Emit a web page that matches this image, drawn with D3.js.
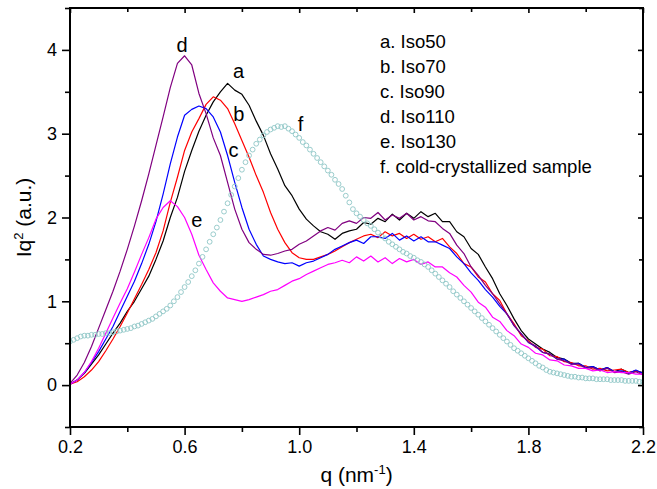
<!DOCTYPE html>
<html>
<head>
<meta charset="utf-8">
<script src="https://cdn.jsdelivr.net/npm/d3@7"></script>
<style>
  html, body { margin: 0; padding: 0; background: #fff; }
  svg { display: block; font-family: "Liberation Sans", Arial, sans-serif; }
</style>
</head>
<body>
<svg id="chart" width="657" height="489"></svg>
<script>
// ---- Data ----
// q grid for the line series: 0.2 .. 2.2 step 0.025
const qLine = d3.range(81).map(i => +(0.2 + i * 0.025).toFixed(4));
// q grid for the marker series f: 0.2 .. 2.2 step 0.0125
const qMark = d3.range(161).map(i => +(0.2 + i * 0.0125).toFixed(5));

const iso50 = [0.01,0.06,0.14,0.25,0.36,0.49,0.62,0.74,0.88,1.00,1.15,1.30,1.50,1.72,2.00,2.24,2.55,2.80,3.03,3.22,3.38,3.50,3.60,3.52,3.47,3.34,3.15,2.98,2.76,2.58,2.38,2.26,2.10,1.98,1.90,1.83,1.80,1.74,1.81,1.84,1.86,1.94,1.92,1.99,1.95,2.04,1.97,2.05,1.99,2.07,2.01,2.05,1.95,1.95,1.83,1.77,1.63,1.56,1.41,1.27,1.09,0.95,0.79,0.65,0.55,0.49,0.43,0.39,0.33,0.31,0.26,0.26,0.21,0.22,0.18,0.21,0.16,0.19,0.15,0.17,0.15];
const iso70 = [0.01,0.04,0.10,0.18,0.28,0.41,0.55,0.70,0.86,1.03,1.20,1.38,1.58,1.84,2.18,2.48,2.80,3.02,3.18,3.35,3.44,3.40,3.30,3.12,2.92,2.72,2.50,2.30,2.06,1.86,1.70,1.58,1.52,1.50,1.50,1.53,1.56,1.60,1.65,1.70,1.74,1.78,1.80,1.76,1.83,1.78,1.81,1.75,1.80,1.74,1.77,1.71,1.75,1.65,1.57,1.45,1.41,1.29,1.23,1.09,1.01,0.85,0.73,0.59,0.53,0.45,0.43,0.35,0.34,0.28,0.27,0.23,0.23,0.19,0.20,0.17,0.18,0.19,0.15,0.17,0.14];
const iso90 = [0.01,0.06,0.15,0.27,0.40,0.55,0.70,0.88,1.06,1.24,1.45,1.68,1.95,2.28,2.64,2.96,3.22,3.29,3.33,3.30,3.20,3.02,2.74,2.42,2.12,1.86,1.68,1.54,1.50,1.47,1.45,1.46,1.42,1.46,1.48,1.52,1.56,1.62,1.66,1.70,1.73,1.69,1.77,1.77,1.75,1.81,1.73,1.78,1.72,1.77,1.71,1.71,1.67,1.63,1.53,1.45,1.34,1.25,1.14,1.05,0.94,0.85,0.71,0.61,0.51,0.46,0.39,0.37,0.31,0.31,0.25,0.26,0.21,0.22,0.18,0.21,0.16,0.17,0.14,0.18,0.14];
const iso110 = [0.02,0.12,0.27,0.46,0.68,0.90,1.12,1.36,1.62,1.90,2.20,2.52,2.86,3.20,3.55,3.84,3.93,3.82,3.48,3.24,2.95,2.74,2.42,2.10,1.86,1.70,1.62,1.56,1.55,1.57,1.60,1.62,1.68,1.72,1.78,1.84,1.88,1.85,1.93,1.96,1.93,2.00,1.99,2.06,1.97,2.03,1.99,2.05,1.97,2.01,1.96,1.95,1.87,1.81,1.67,1.57,1.41,1.31,1.19,1.09,0.97,0.85,0.71,0.61,0.51,0.47,0.39,0.37,0.31,0.29,0.25,0.25,0.20,0.21,0.17,0.20,0.15,0.16,0.13,0.16,0.12];
const iso130 = [0.01,0.06,0.15,0.28,0.44,0.62,0.80,0.98,1.15,1.35,1.56,1.76,1.98,2.12,2.20,2.13,2.00,1.80,1.55,1.38,1.22,1.12,1.04,1.02,1.00,1.02,1.05,1.08,1.12,1.14,1.19,1.24,1.27,1.32,1.36,1.40,1.44,1.46,1.49,1.46,1.53,1.48,1.54,1.47,1.52,1.45,1.51,1.47,1.50,1.44,1.47,1.41,1.41,1.34,1.29,1.19,1.11,0.99,0.93,0.81,0.76,0.65,0.59,0.49,0.45,0.38,0.36,0.30,0.29,0.24,0.23,0.20,0.20,0.17,0.18,0.15,0.16,0.15,0.15,0.13,0.13];
const coldCryst = [0.52,0.54,0.56,0.58,0.59,0.59,0.60,0.60,0.61,0.61,0.62,0.62,0.63,0.64,0.65,0.66,0.67,0.68,0.70,0.71,0.73,0.75,0.77,0.79,0.82,0.85,0.88,0.91,0.95,1.00,1.05,1.11,1.17,1.23,1.30,1.37,1.45,1.53,1.62,1.71,1.80,1.88,1.97,2.07,2.17,2.27,2.37,2.47,2.57,2.66,2.74,2.81,2.88,2.93,2.98,3.02,3.05,3.07,3.09,3.08,3.09,3.06,3.03,2.99,2.95,2.90,2.86,2.81,2.76,2.71,2.66,2.61,2.56,2.51,2.45,2.40,2.34,2.26,2.18,2.10,2.05,2.01,1.97,1.93,1.90,1.86,1.82,1.78,1.75,1.71,1.68,1.65,1.62,1.59,1.57,1.54,1.52,1.49,1.47,1.44,1.41,1.37,1.33,1.29,1.25,1.21,1.17,1.12,1.08,1.04,1.00,0.96,0.92,0.88,0.84,0.80,0.76,0.72,0.68,0.64,0.60,0.56,0.52,0.48,0.44,0.41,0.38,0.35,0.32,0.29,0.26,0.23,0.21,0.18,0.16,0.15,0.14,0.13,0.12,0.11,0.10,0.10,0.09,0.09,0.08,0.08,0.08,0.07,0.07,0.07,0.07,0.06,0.06,0.06,0.06,0.05,0.05,0.05,0.05,0.04,0.04];

const lineSeries = [
  { key: "a", values: iso50,  color: "#000000" },
  { key: "b", values: iso70,  color: "#ff0000" },
  { key: "c", values: iso90,  color: "#0000ff" },
  { key: "d", values: iso110, color: "#800080" },
  { key: "e", values: iso130, color: "#ff00ff" }
];
const markColor = "#8ec6c6";

const legendLabels = ["a. Iso50", "b. Iso70", "c. Iso90", "d. Iso110", "e. Iso130", "f. cold-crystallized sample"];
const curveLabels = [
  { t: "a", q: 0.788, v: 3.67 },
  { t: "b", q: 0.789, v: 3.15 },
  { t: "c", q: 0.771, v: 2.72 },
  { t: "d", q: 0.591, v: 3.97 },
  { t: "e", q: 0.643, v: 1.89 },
  { t: "f", q: 1.005, v: 3.03 }
];
const xMajor = [0.2, 0.6, 1.0, 1.4, 1.8, 2.2];
const xMinor = [0.4, 0.8, 1.2, 1.6, 2.0];
const yMajor = [0, 1, 2, 3, 4];
const yMinor = [-0.5, 0.5, 1.5, 2.5, 3.5, 4.5];

// ---- Layout ----
const svg = d3.select("#chart");
const L = 70, R = 643, T = 8, B = 427;
const x = d3.scaleLinear().domain([0.2, 2.2]).range([L, R]);
const y = d3.scaleLinear().domain([-0.5, 4.5]).range([B, T]);

svg.append("defs").append("clipPath").attr("id", "clip")
  .append("rect").attr("x", L).attr("y", T).attr("width", R - L).attr("height", B - T);

const plot = svg.append("g").attr("clip-path", "url(#clip)");
const line = d3.line().x(d => x(d[0])).y(d => y(d[1]));

lineSeries.forEach(s => {
  plot.append("path")
    .datum(qLine.map((q, i) => [q, s.values[i]]))
    .attr("d", line)
    .attr("fill", "none")
    .attr("stroke", s.color)
    .attr("stroke-width", 1.2)
    .attr("stroke-linejoin", "round");
});

plot.append("g").selectAll("circle")
  .data(qMark.map((q, i) => [q, coldCryst[i]]))
  .join("circle")
  .attr("cx", d => x(d[0]))
  .attr("cy", d => y(d[1]))
  .attr("r", 2.4)
  .attr("fill", "none")
  .attr("stroke", markColor)
  .attr("stroke-width", 0.9);

// ---- Axes ----
const fmt = d3.format(".1f");
function axisGroup(axisFn, scale, major, minor, pos, outward, labels) {
  const g1 = svg.append("g").attr("transform", pos)
    .call(axisFn(scale).tickValues(major).tickSize(outward ? 8 : -5).tickPadding(outward ? 4 : 3)
      .tickFormat(labels ? labels : () => ""));
  const g2 = svg.append("g").attr("transform", pos)
    .call(axisFn(scale).tickValues(minor).tickSize(outward ? 5 : -4).tickFormat(() => ""));
  [g1, g2].forEach(g => {
    g.select(".domain").remove();
    g.selectAll(".tick line").attr("stroke", "#000").attr("stroke-width", 1.6);
  });
  return g1;
}
const gx = axisGroup(d3.axisBottom, x, xMajor, xMinor, `translate(0,${B})`, true, fmt);
gx.selectAll(".tick text").attr("font-size", 18).attr("fill", "#000").attr("dy", "0.78em");
axisGroup(d3.axisTop, x, xMajor, xMinor, `translate(0,${T})`, false, null);
const gy = axisGroup(d3.axisLeft, y, yMajor, yMinor, `translate(${L},0)`, true, d3.format("d"));
gy.selectAll(".tick text").attr("font-size", 18).attr("fill", "#000").attr("dx", "-1");
axisGroup(d3.axisRight, y, yMajor, yMinor, `translate(${R},0)`, false, null);

// frame
svg.append("rect").attr("x", L).attr("y", T).attr("width", R - L).attr("height", B - T)
  .attr("fill", "none").attr("stroke", "#000").attr("stroke-width", 2);

// ---- Axis titles ----
const xt = svg.append("text").attr("x", (L + R) / 2).attr("y", 482)
  .attr("text-anchor", "middle").attr("font-size", 21).attr("fill", "#000");
xt.append("tspan").text("q (nm");
xt.append("tspan").text("-1").attr("font-size", 13).attr("dy", -8);
xt.append("tspan").text(")").attr("dy", 8);

const yt = svg.append("text").attr("transform", `translate(31,${(T + B) / 2}) rotate(-90)`)
  .attr("text-anchor", "middle").attr("font-size", 21).attr("fill", "#000");
yt.append("tspan").text("Iq");
yt.append("tspan").text("2").attr("font-size", 13).attr("dy", -8);
yt.append("tspan").text(" (a.u.)").attr("dy", 8);

// ---- Legend ----
svg.append("g").selectAll("text").data(legendLabels).join("text")
  .attr("x", 380).attr("y", (d, i) => 48 + i * 25)
  .attr("font-size", 18.5).attr("fill", "#000").text(d => d);

// ---- Curve labels ----
svg.append("g").selectAll("text").data(curveLabels).join("text")
  .attr("x", d => x(d.q)).attr("y", d => y(d.v))
  .attr("text-anchor", "middle").attr("font-size", 20).attr("fill", "#000")
  .text(d => d.t);
</script>
</body>
</html>
